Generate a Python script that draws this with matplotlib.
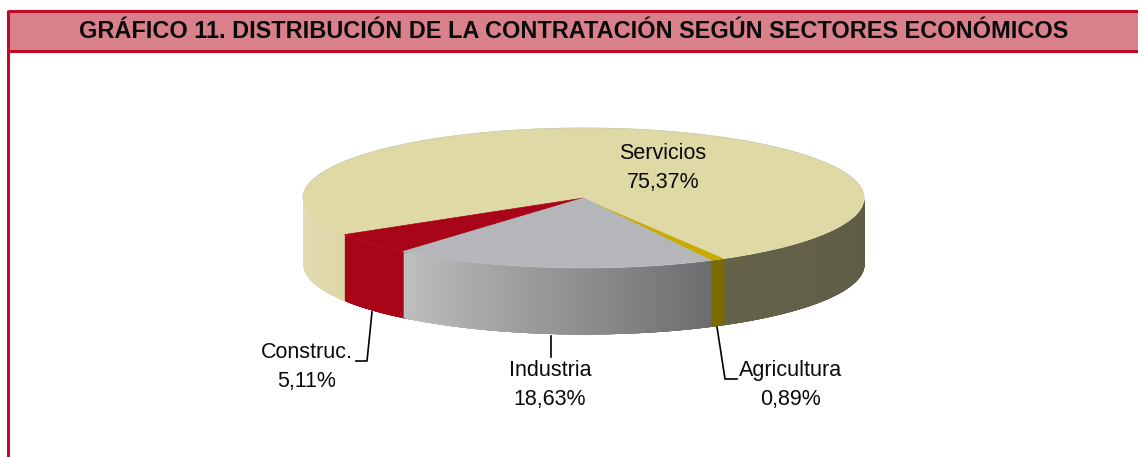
import numpy as np
import matplotlib
matplotlib.use('Agg')
import matplotlib.pyplot as plt
from matplotlib.colors import to_rgb

plt.rcParams['font.family'] = ['Liberation Sans', 'DejaVu Sans']

title = 'GRÁFICO 11. DISTRIBUCIÓN DE LA CONTRATACIÓN SEGÚN SECTORES ECONÓMICOS'
sectors = ['Agricultura', 'Servicios', 'Construc.', 'Industria']
shares = [0.89, 75.37, 5.11, 18.63]
share_labels = ['0,89%', '75,37%', '5,11%', '18,63%']
top_colors = ['#C9AB00', '#DFD9A6', '#A80519', '#B4B6B9']

W, H = 1138, 457
CX, CY, RX, RY, DEPTH = 583.5, 198.0, 280.5, 70.0, 66.0
START = 297.0  # angulo donde empieza Agricultura

fig = plt.figure(figsize=(W / 100, H / 100), dpi=100, facecolor='white')

# fondo en pixeles para el marco y los textos
bg = fig.add_axes([0, 0, 1, 1])
bg.set_xlim(0, W)
bg.set_ylim(H, 0)
bg.axis('off')
bg.fill_between([8, W], 11, 51, color='#D9818B', lw=0)
bg.plot([8, W], [11, 11], color='#BE0A26', lw=2.2, solid_capstyle='butt')
bg.plot([8, W], [51, 51], color='#BE0A26', lw=2.2, solid_capstyle='butt')
bg.plot([8, 8], [10, H], color='#BE0A26', lw=2.2, solid_capstyle='butt')
bg.text(574, 31.5, title, ha='center', va='center', fontsize=16.95, fontweight='bold', color='#0A0A0A')

# tarta: el eje va en unidades del radio, aplastado en vertical
ax = fig.add_axes([0, 0, 1, 1], zorder=2)
ax.patch.set_alpha(0)
wedges, _ = ax.pie(shares, colors=top_colors, startangle=START, counterclock=True, radius=1)
for wedge, color in zip(wedges, top_colors):
    wedge.set_edgecolor(color)
    wedge.set_linewidth(0.5)
ax.set_aspect('auto')
ax.set_xlim((0 - CX) / RX, (W - CX) / RX)
ax.set_ylim((CY - H) / RY, CY / RY)
ax.axis('off')


def wall_color(deg, sector):
    if sector == 'Industria':
        t = (deg - 230) / (297 - 230)
        a, b = to_rgb('#BEC0BF'), to_rgb('#6B6C6E')
    elif sector == 'Agricultura':
        t = 0
        a, b = to_rgb('#7A6A00'), to_rgb('#7A6A00')
    elif sector == 'Construc.':
        t = 0
        a, b = to_rgb('#A80519'), to_rgb('#A80519')
    elif deg < 250:
        t = (deg - 180) / 32
        a, b = to_rgb('#E3DDB4'), to_rgb('#DDD7A8')
    else:
        t = (deg - 300) / 60
        a, b = to_rgb('#65624A'), to_rgb('#5F5C46')
    return tuple(np.array(a) + (np.array(b) - np.array(a)) * t)


# lateral visible: cada tira se solapa con la siguiente para no dejar rayas
edges = START + np.cumsum([0] + shares) * 3.6
d = DEPTH / RY
for deg in np.arange(180, 360, 0.5):
    mid = deg + 0.25
    for name, a0, a1 in zip(sectors, edges[:-1], edges[1:]):
        if a0 <= mid < a1 or a0 <= mid + 360 < a1:
            sector = name
            break
    th = np.radians(np.linspace(deg, min(deg + 3, 360), 8))
    ax.fill_between(np.cos(th), np.sin(th), np.sin(th) - d, color=wall_color(mid, sector), lw=0, zorder=0)

# borde fino de la cara superior
th = np.radians(np.linspace(0, 180, 200))
ax.plot(np.cos(th), np.sin(th), color='#CFCDB0', lw=0.6, zorder=3)

# lineas guia
bg_lines = fig.add_axes([0, 0, 1, 1], zorder=3)
bg_lines.set_xlim(0, W)
bg_lines.set_ylim(H, 0)
bg_lines.axis('off')
bg_lines.plot([372, 367, 356], [312, 361, 361], color='black', lw=1.2)
bg_lines.plot([551, 551], [336, 357], color='black', lw=1.2)
bg_lines.plot([717, 725, 737], [327, 379, 379], color='black', lw=1.2)

# etiquetas: x centro, y centro del bloque
label_pos = {'Agricultura': (791, 385), 'Servicios': (663, 168), 'Construc.': (307, 367), 'Industria': (550, 385)}
for name, label in zip(sectors, share_labels):
    lx, ly = label_pos[name]
    bg_lines.text(lx, ly, f'{name}\n{label}', ha='center', va='center', fontsize=15.5,
                  linespacing=1.5, color='#0A0A0A')

fig.savefig('out.png', dpi=100)
